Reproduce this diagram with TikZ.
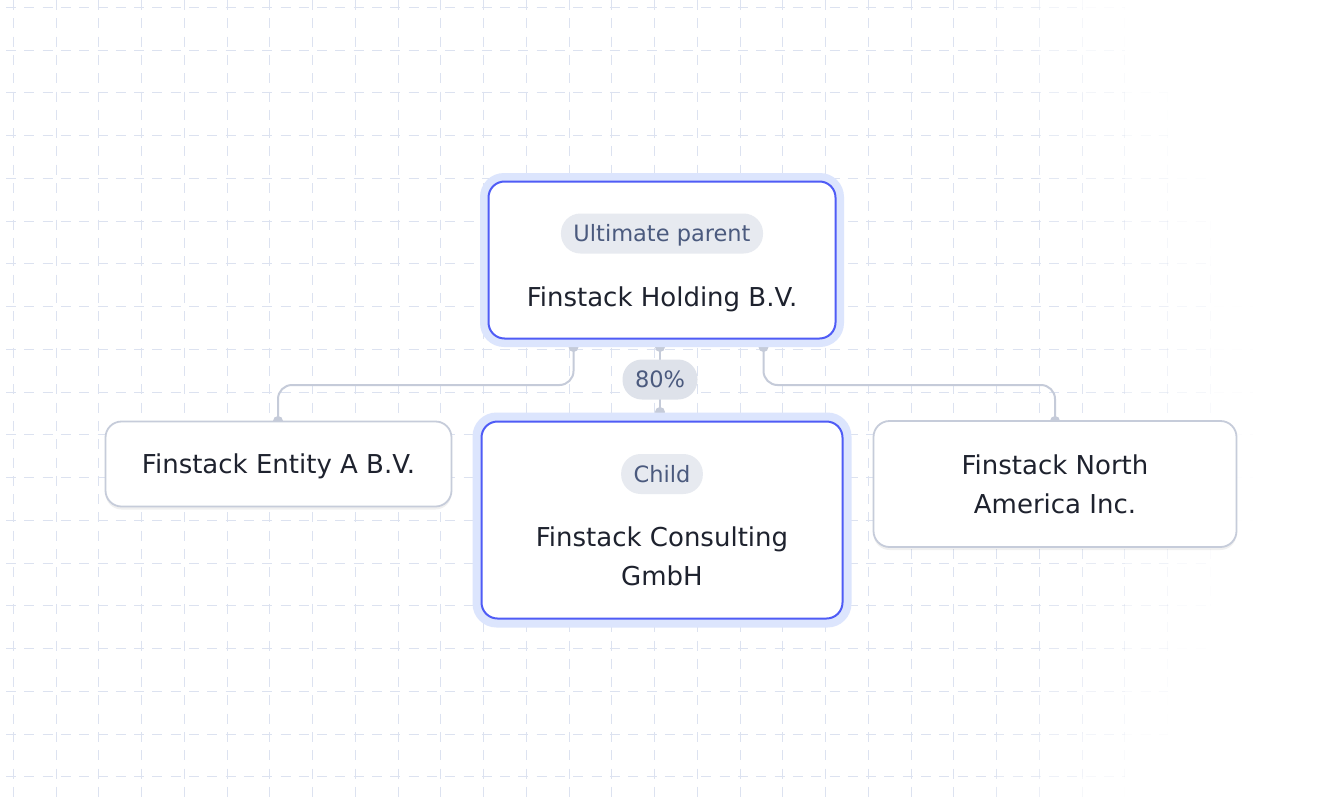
\documentclass[tikz,border=0pt]{standalone}
\usepackage{fontspec}
\setmainfont{DejaVu Sans}
\usetikzlibrary{shadows,calc}
\definecolor{gridc}{HTML}{DCE2F0}
\definecolor{halo}{HTML}{DCE5FD}
\definecolor{selblue}{HTML}{4F5CF6}
\definecolor{boxgrey}{HTML}{C6CCDA}
\definecolor{connc}{HTML}{C5CBD9}
\definecolor{badgefill}{HTML}{E7EAF0}
\definecolor{pctfill}{HTML}{DEE2EA}
\definecolor{badgetext}{HTML}{4B5A7E}
\definecolor{maintext}{HTML}{1E222E}
\tikzset{
  declare function={gridop(\x,\y)=min(1,max(0,(1-sqrt(max(0,(\x-795)/450)*max(0,(\x-795)/450)+((\y-410)/500)*((\y-410)/500)*max(0,(\x-795)/450)))/0.4));},
  haloshape/.style={rectangle, rounded corners=24pt, fill=halo, draw=none, inner sep=0pt},
  selbox/.style={rectangle, rounded corners=16pt, fill=white, draw=selblue, line width=2pt, inner sep=0pt},
  plainbox/.style={rectangle, rounded corners=16pt, fill=white, draw=boxgrey, line width=1.8pt, inner sep=0pt,
    text=maintext, font=\fontsize{26}{39}\selectfont, align=center,
    drop shadow={opacity=0.06, shadow xshift=0pt, shadow yshift=-3pt, fill=black}},
  badge/.style={rectangle, rounded corners=19.5pt, fill=badgefill, text=badgetext,
    font=\fontsize{22.5}{27}\selectfont, minimum height=40pt, text height=16.4pt, text depth=0pt,
    inner xsep=12.5pt, inner ysep=0pt},
  titletext/.style={text=maintext, font=\fontsize{26}{39.3}\selectfont, align=center, inner sep=0pt},
  handle/.style={circle, fill=connc, minimum size=10pt, inner sep=0pt},
  link/.style={draw=connc, line width=2pt, rounded corners=14pt},
  gridseg/.style={gridc, line width=1.2pt, dash pattern=on 10pt off 8.3pt},
}
\begin{document}
\begin{tikzpicture}[x=1pt,y=-1pt]
\useasboundingbox (0,0) rectangle (1340,800);
\fill[white] (0,0) rectangle (1340,800);
% background grid with fade
\begin{scope}
\clip (6,0) rectangle (1340,800);
\foreach \i in {0,...,29}{
  \foreach \j in {0,...,19}{
    \pgfmathsetmacro{\X}{floor(13.3+42.75*\i)+0.5}
    \pgfmathsetmacro{\Ys}{-35.45+42.75*\j}
    \pgfmathsetmacro{\op}{gridop(\X,\Ys+21.4)}
    \ifdim\op pt>0.01pt
      \pgfmathsetmacro{\ph}{mod(\Ys+183,18.3)}
      \draw[gridseg, opacity=\op, dash phase=\ph pt] (\X,\Ys) -- (\X,\Ys+42.75);
    \fi
  }
}
\foreach \j in {0,...,18}{
  \foreach \i in {0,...,31}{
    \pgfmathsetmacro{\Y}{floor(7.3+42.75*\j)+0.5}
    \pgfmathsetmacro{\Xs}{-29.45+42.75*\i}
    \pgfmathsetmacro{\op}{gridop(\Xs+21.4,\Y)}
    \ifdim\op pt>0.01pt
      \pgfmathsetmacro{\ph}{mod(\Xs-6+183,18.3)}
      \draw[gridseg, opacity=\op, dash phase=\ph pt] (\Xs,\Y) -- (\Xs+42.75,\Y);
    \fi
  }
}
\end{scope}
% handles
\node[handle] (hL) at (573.5,347) {};
\node[handle] (hM) at (660,347) {};
\node[handle] (hR) at (763.5,347) {};
\node[handle] (tA) at (278,421) {};
\node[handle] (tC) at (660,412) {};
\node[handle] (tN) at (1055,421) {};
\coordinate (bus) at (0,385);
% connectors
\draw[link] (hL.center) -- (hL.center |- bus) -- (tA.center |- bus) -- (tA.center);
\draw[link] (hR.center) -- (hR.center |- bus) -- (tN.center |- bus) -- (tN.center);
\draw[link] (hM.center) -- node[badge, fill=pctfill] (pct) {80\%} (tC.center);
% holding
\node[haloshape, minimum width=364pt, minimum height=174pt] (holdhalo) at (662,260) {};
\node[selbox, minimum width=347pt, minimum height=157pt] (hold) at (662,260) {};
\node[badge] (holdbadge) at (662,233.5) {Ultimate parent};
\node[titletext, anchor=base] (holdname) at (662,306.7) {Finstack Holding B.V.};
% child
\node[haloshape, minimum width=379pt, minimum height=215pt] (childhalo) at (662,520) {};
\node[selbox, minimum width=361pt, minimum height=197pt] (child) at (662,520) {};
\node[badge] (childbadge) at (662,474) {Child};
\node[titletext, anchor=base] (childname) at (662,585.3) {Finstack Consulting\\GmbH};
% plain boxes
\node[plainbox, minimum width=346pt, minimum height=85pt, text height=19pt, text depth=0pt] (enta) at (278.5,464) {Finstack Entity A B.V.};
\node[plainbox, minimum width=363pt, minimum height=126pt] (nam) at (1055,484) {Finstack North\\America Inc.};
\end{tikzpicture}
\end{document}
